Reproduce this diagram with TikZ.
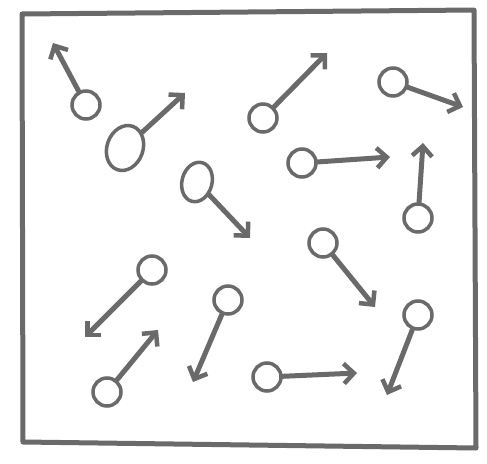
\documentclass[tikz,border=0pt]{standalone}
\usetikzlibrary{arrows.meta,shapes.geometric}
\definecolor{pencil}{HTML}{6A6A6A}
\tikzset{
  x=1pt,y=-1pt,
  spin/.style={draw=pencil,line width=3.5pt,ellipse,inner sep=0pt,minimum width=28pt,minimum height=28pt},
  bigspin/.style={spin,minimum width=36pt,minimum height=46pt},
  midspin/.style={spin,minimum width=30pt,minimum height=40pt},
  moment/.style={draw=pencil,line width=5pt,line cap=round,
    -{Straight Barb[length=10pt,width=20pt,line width=4.5pt]}},
  frame/.style={draw=pencil,line width=5pt,line join=round}
}
\begin{document}
\begin{tikzpicture}
\useasboundingbox (0,0) rectangle (487,463);
\fill[white] (0,0) rectangle (487,463);
\draw[frame] (22,14) -- (474,10) -- (476,448) -- (23,442) -- cycle;
% spins
\node[spin] (s1) at (86,105) {};
\node[bigspin,rotate=-20] (s2) at (125,148) {};
\node[spin] (s3) at (263,118) {};
\node[spin] (s4) at (393,82) {};
\node[midspin,rotate=-15] (s5) at (197,182) {};
\node[spin] (s6) at (302,163) {};
\node[spin] (s7) at (418,218) {};
\node[spin] (s8) at (323,243) {};
\node[spin] (s9) at (152,270) {};
\node[spin] (s10) at (228,300) {};
\node[spin] (s11) at (418,315) {};
\node[spin] (s12) at (107,392) {};
\node[spin] (s13) at (267,377) {};
% arrow tips
\coordinate (t1) at (53,43);
\coordinate (t2) at (185,93);
\coordinate (t3) at (327,53);
\coordinate (t4) at (463,107);
\coordinate (t5) at (250,238);
\coordinate (t6) at (390,157);
\coordinate (t7) at (423,143);
\coordinate (t8) at (375,307);
\coordinate (t9) at (85,337);
\coordinate (t10) at (193,382);
\coordinate (t11) at (387,395);
\coordinate (t12) at (158,330);
\coordinate (t13) at (357,373);
\foreach \i in {1,...,13} {\draw[moment] (s\i) -- (t\i);}
\end{tikzpicture}
\end{document}
